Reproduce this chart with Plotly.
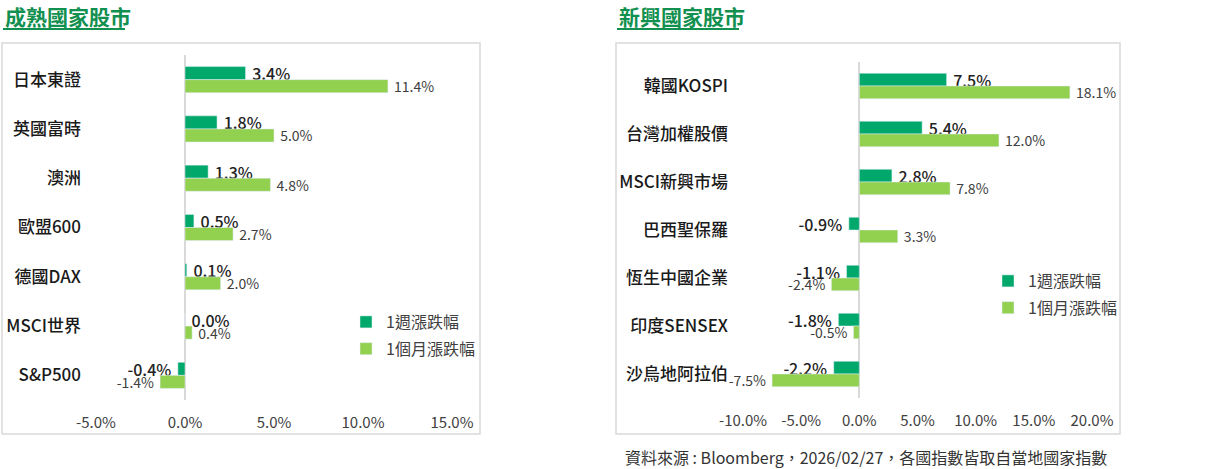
import plotly.graph_objects as go

W, H = 1206, 469

# 成熟國家股市
dev_names = ["日本東證", "英國富時", "澳洲", "歐盟600", "德國DAX", "MSCI世界", "S&P500"]
dev_week = [3.4, 1.8, 1.3, 0.5, 0.1, 0.0, -0.4]
dev_month = [11.4, 5.0, 4.8, 2.7, 2.0, 0.4, -1.4]
dev_ticks = [-5, 0, 5, 10, 15]

# 新興國家股市
em_names = ["韓國KOSPI", "台灣加權股價", "MSCI新興市場", "巴西聖保羅", "恆生中國企業", "印度SENSEX", "沙烏地阿拉伯"]
em_week = [7.5, 5.4, 2.8, -0.9, -1.1, -1.8, -2.2]
em_month = [18.1, 12.0, 7.8, 3.3, -2.4, -0.5, -7.5]
em_ticks = [-10, -5, 0, 5, 10, 15, 20]

week_name = "1週漲跌幅"
month_name = "1個月漲跌幅"
source_note = "資料來源 : Bloomberg，2026/02/27，各國指數皆取自當地國家指數"

C_WEEK = "#00A86B"
C_MONTH = "#92D050"
C_TITLE = "#12904F"
FONT = "Noto Sans CJK TC"
NB = "\u00a0"


def px_x(x):
    return x / W


def px_y(y):
    return 1 - y / H


def pct(vals):
    return [f"{v:.1f}%" for v in vals]


def bar_text(vals):
    # a little extra gap between bar end and label, on the outer side
    return [NB + f"{v:.1f}%" if v >= 0 else f"{v:.1f}%" + NB for v in vals]


fig = go.Figure()

panels = [
    (dev_names, dev_week, dev_month, "x", "y", "legend"),
    (em_names, em_week, em_month, "x2", "y2", "legend2"),
]
for names, week, month, xa, ya, lg in panels:
    fig.add_trace(go.Bar(
        y=names, x=week, orientation="h", name=week_name, legendgroup="w",
        marker_color=C_WEEK, text=bar_text(week), textposition="outside",
        textfont=dict(size=16, color="#222222", weight=500), constraintext="none",
        cliponaxis=False, hoverinfo="skip", xaxis=xa, yaxis=ya, legend=lg,
    ))
    fig.add_trace(go.Bar(
        y=names, x=month, orientation="h", name=month_name, legendgroup="m",
        marker_color=C_MONTH, text=bar_text(month), textposition="outside",
        textfont=dict(size=14, color="#404040"), constraintext="none",
        cliponaxis=False, hoverinfo="skip", xaxis=xa, yaxis=ya, legend=lg,
    ))

axis_common = dict(showgrid=False, zeroline=True, zerolinecolor="#d9d9d9",
                   zerolinewidth=1.5, showline=False, ticks="", automargin=False,
                   ticklabelstandoff=12,
                   tickfont=dict(size=15, color="#404040", family=FONT))
ycommon = dict(autorange="reversed", showgrid=False, showline=False, ticks="",
               ticklabelstandoff=14, automargin=False,
               tickfont=dict(size=17, color="#1a1a1a", family=FONT, weight=500))
legend_common = dict(xanchor="left", yanchor="top", traceorder="grouped",
                     tracegroupgap=3, font=dict(size=16, color="#404040"),
                     bgcolor="rgba(0,0,0,0)")

fig.update_layout(
    width=W, height=H,
    margin=dict(l=0, r=0, t=0, b=0, autoexpand=False),
    paper_bgcolor="white", plot_bgcolor="white",
    font=dict(family=FONT, color="#333333"),
    barmode="group", bargap=0.47, bargroupgap=0,
    xaxis=dict(domain=[px_x(96), px_x(452)], range=[-5, 15],
               tickvals=dev_ticks, ticktext=pct(dev_ticks), anchor="y",
               **axis_common),
    yaxis=dict(domain=[px_y(400), px_y(55)], anchor="x", **ycommon),
    xaxis2=dict(domain=[px_x(743), px_x(1092)], range=[-10, 20],
                tickvals=em_ticks, ticktext=pct(em_ticks), anchor="y2",
                **axis_common),
    yaxis2=dict(domain=[px_y(398), px_y(62)], anchor="x2", **ycommon),
    legend=dict(x=px_x(346), y=px_y(305), **legend_common),
    legend2=dict(x=px_x(988), y=px_y(264), **legend_common),
    showlegend=True,
)

# panel frames
for x0, x1 in [(2, 480), (616, 1120)]:
    fig.add_shape(type="rect", xref="paper", yref="paper",
                  x0=px_x(x0), x1=px_x(x1), y0=px_y(434), y1=px_y(43),
                  line=dict(color="#d9d9d9", width=1.5))

# panel titles with underline
for title, x0, x1 in [("成熟國家股市", 3, 125), ("新興國家股市", 617, 739)]:
    fig.add_annotation(text=title, xref="paper", yref="paper",
                       x=px_x(x0), y=px_y(16), xanchor="left", yanchor="middle",
                       showarrow=False,
                       font=dict(size=21, color=C_TITLE, family=FONT, weight=700))
    fig.add_shape(type="line", xref="paper", yref="paper",
                  x0=px_x(x0), x1=px_x(x1), y0=px_y(29), y1=px_y(29),
                  line=dict(color=C_TITLE, width=2))

fig.add_annotation(text=source_note, xref="paper", yref="paper",
                   x=px_x(623), y=px_y(457), xanchor="left", yanchor="middle",
                   showarrow=False, font=dict(size=16, color="#333333", family=FONT))

# drop the page's default body margin so the figure sits at the window's corner
fig.write_html("out.html", config={"displayModeBar": False},
               post_script="document.body.style.margin='0';")
